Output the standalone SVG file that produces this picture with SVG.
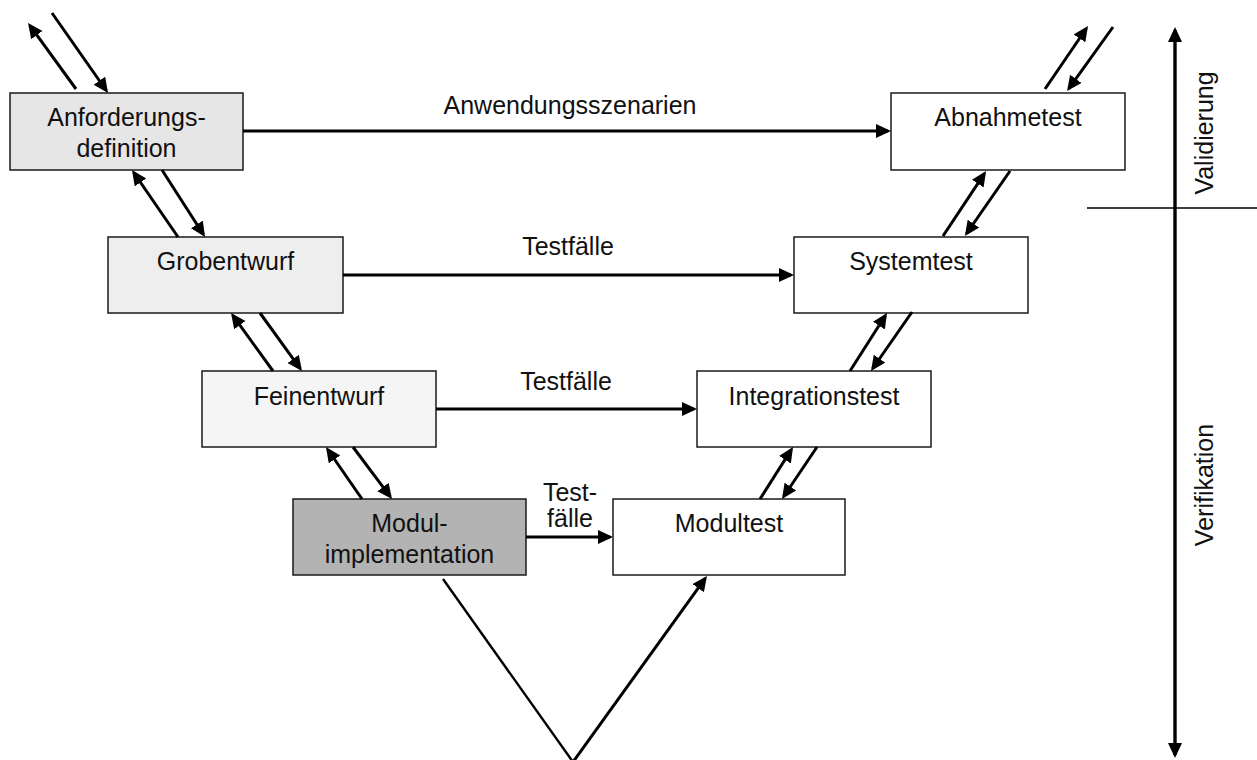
<svg xmlns="http://www.w3.org/2000/svg" width="1257" height="760" viewBox="0 0 1257 760">
  <style>
    .box { stroke: #1a1a1a; stroke-width: 1.5; }
    .lbl { font-family: "Liberation Sans", Arial, sans-serif; font-size: 25px; fill: #111; text-anchor: middle; }
    .arr { stroke: #000; stroke-width: 3; fill: none; marker-end: url(#head); }
    .ln { stroke: #000; stroke-width: 2.4; fill: none; }
  </style>
  <defs>
    <marker id="head" markerUnits="userSpaceOnUse" markerWidth="16" markerHeight="16" refX="12" refY="7" orient="auto">
      <path d="M0,0 L15,7 L0,14 z" fill="#000"/>
    </marker>
  </defs>

  <rect width="1257" height="760" fill="#fff"/>

  <!-- left branch: specification phases -->
  <g id="anforderungsdefinition">
    <rect class="box" x="10" y="93" width="233" height="77" fill="#e6e6e6"/>
    <text class="lbl" x="126.5" y="126">Anforderungs-</text>
    <text class="lbl" x="126.5" y="157">definition</text>
  </g>
  <g id="grobentwurf">
    <rect class="box" x="108" y="237" width="235" height="76" fill="#eeeeee"/>
    <text class="lbl" x="225.5" y="270">Grobentwurf</text>
  </g>
  <g id="feinentwurf">
    <rect class="box" x="202" y="371" width="234" height="76" fill="#f5f5f5"/>
    <text class="lbl" x="319" y="405">Feinentwurf</text>
  </g>
  <g id="modulimplementation">
    <rect class="box" x="293" y="499" width="233" height="76" fill="#b3b3b3"/>
    <text class="lbl" x="409.5" y="532">Modul-</text>
    <text class="lbl" x="409.5" y="563">implementation</text>
  </g>

  <!-- right branch: test phases -->
  <g id="abnahmetest">
    <rect class="box" x="891" y="93" width="234" height="77" fill="#fff"/>
    <text class="lbl" x="1008" y="126">Abnahmetest</text>
  </g>
  <g id="systemtest">
    <rect class="box" x="794" y="237" width="234" height="76" fill="#fff"/>
    <text class="lbl" x="911" y="270">Systemtest</text>
  </g>
  <g id="integrationstest">
    <rect class="box" x="697" y="371" width="234" height="76" fill="#fff"/>
    <text class="lbl" x="814" y="405">Integrationstest</text>
  </g>
  <g id="modultest">
    <rect class="box" x="613" y="499" width="232" height="76" fill="#fff"/>
    <text class="lbl" x="729" y="532">Modultest</text>
  </g>

  <g id="connectors">
    <!-- horizontal test-case links -->
    <line class="arr" x1="243" y1="131" x2="888" y2="131"/>
    <line class="arr" x1="343" y1="275" x2="791" y2="275"/>
    <line class="arr" x1="436" y1="409" x2="694" y2="409"/>
    <line class="arr" x1="526" y1="537" x2="610" y2="537"/>

    <!-- left side feedback pairs -->
    <line class="arr" x1="76" y1="89" x2="29.8" y2="25.4"/>
    <line class="arr" x1="52" y1="13" x2="106.3" y2="90.5"/>
    <line class="arr" x1="178" y1="237" x2="133.7" y2="172.5"/>
    <line class="arr" x1="162" y1="170" x2="203.4" y2="234.5"/>
    <line class="arr" x1="273" y1="371" x2="232.8" y2="315.4"/>
    <line class="arr" x1="260" y1="313" x2="300.2" y2="368.6"/>
    <line class="arr" x1="362" y1="499" x2="327.7" y2="449.5"/>
    <line class="arr" x1="353" y1="447" x2="390.2" y2="496.6"/>

    <!-- right side feedback pairs -->
    <line class="arr" x1="1045" y1="89" x2="1086.3" y2="28.5"/>
    <line class="arr" x1="1113" y1="27" x2="1068.8" y2="88.6"/>
    <line class="arr" x1="943" y1="236" x2="984.4" y2="173.6"/>
    <line class="arr" x1="1010" y1="171" x2="966.6" y2="233.5"/>
    <line class="arr" x1="850" y1="371" x2="885.4" y2="315.5"/>
    <line class="arr" x1="912" y1="312" x2="872.7" y2="368.5"/>
    <line class="arr" x1="760" y1="499" x2="791.4" y2="449.5"/>
    <line class="arr" x1="817" y1="447" x2="783.7" y2="496.5"/>

    <!-- V bottom -->
    <polyline class="ln" points="443,579 573,762"/>
    <line class="arr" x1="573" y1="762" x2="705.2" y2="578.4"/>

    <!-- validation / verification axis -->
    <line class="arr" x1="1175" y1="400" x2="1175" y2="30" style="stroke-width:3.4"/>
    <line class="arr" x1="1175" y1="400" x2="1175" y2="755" style="stroke-width:3.4"/>
    <line x1="1087" y1="208" x2="1257" y2="208" stroke="#000" stroke-width="1.4"/>
  </g>

  <!-- connector labels -->
  <text class="lbl" x="570" y="114">Anwendungsszenarien</text>
  <text class="lbl" x="568" y="255">Testfälle</text>
  <text class="lbl" x="566" y="390">Testfälle</text>
  <text class="lbl" x="570" y="501">Test-</text>
  <text class="lbl" x="570" y="527">fälle</text>

  <text class="lbl" transform="translate(1213,133) rotate(-90)">Validierung</text>
  <text class="lbl" transform="translate(1213,485) rotate(-90)">Verifikation</text>
</svg>
